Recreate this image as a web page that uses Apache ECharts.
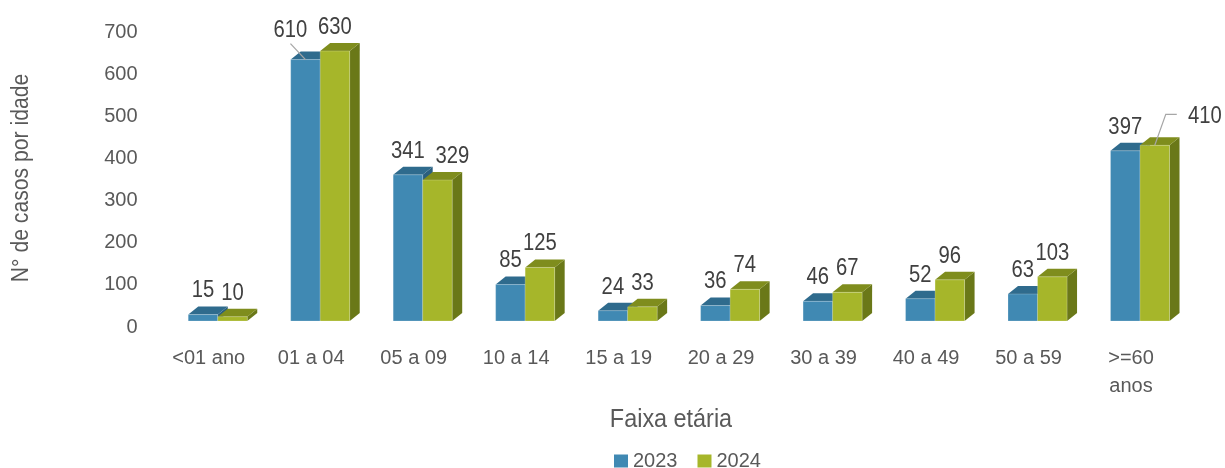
<!DOCTYPE html>
<html>
<head>
<meta charset="utf-8">
<script src="https://cdn.jsdelivr.net/npm/echarts@6/dist/echarts.min.js"></script>
<style>
  html, body { margin: 0; padding: 0; background: #fff; }
  #main { width: 1225px; height: 468px; }
</style>
</head>
<body>
<div id="main"></div>
<script>
// dados
var faixas = ['<01 ano', '01 a 04', '05 a 09', '10 a 14', '15 a 19', '20 a 29', '30 a 39', '40 a 49', '50 a 59', '>=60\nanos'];
var casos2023 = [15, 610, 341, 85, 24, 36, 46, 52, 63, 397];
var casos2024 = [10, 630, 329, 125, 33, 74, 67, 96, 103, 410];
var yTicks = [0, 100, 200, 300, 400, 500, 600, 700];

var FONT = '"Liberation Sans Narrow", "Liberation Sans", Arial, sans-serif';
var DX = 10, DY = 8;          // profundidade do efeito 3D
var BAR_RATIO = 0.288;        // largura de cada barra / largura da categoria

var cores = [
  { front: '#4089B3', top: '#2F6B8D', side: '#2B5F7E' },  // 2023
  { front: '#A6B62A', top: '#7F8D1D', side: '#6A7818' }   // 2024
];

// rótulos deslocados - [serie-categoria]: [dx, dy, linha de chamada]
var labelShift = { '0-1': [-15, -5, 'diag'], '1-2': [15, 0, null], '1-9': [50, -5, 'elbow'] };

function render3D(s) {
  return function (params, api) {
    var cat = api.value(0), val = api.value(1);
    var base = api.coord([cat, 0]);
    var top = api.coord([cat, val]);
    var band = api.size([1, 0])[0];
    var w = band * BAR_RATIO;
    var x0 = base[0] - w + s * w, x1 = x0 + w;
    var y0 = top[1], yb = base[1];
    var c = cores[s];
    var children = [
      { type: 'polygon', shape: { points: [[x1, yb], [x1 + DX, yb - DY], [x1 + DX, y0 - DY], [x1, y0]] },
        style: { fill: c.side } },
      { type: 'polygon', shape: { points: [[x0, y0], [x0 + DX, y0 - DY], [x1 + DX, y0 - DY], [x1, y0]] },
        style: { fill: c.top } },
      { type: 'rect', shape: { x: x0, y: y0, width: w, height: yb - y0 },
        style: { fill: c.front, stroke: 'rgba(255,255,255,0.35)', lineWidth: 0.6 } }
    ];
    var cx = (x0 + x1) / 2, ly = y0 - DY - 4;
    var sh = labelShift[s + '-' + cat];
    if (sh) {
      var tx = cx + sh[0], ty = ly + sh[1];
      if (sh[2] === 'diag') {
        children.push({ type: 'line', shape: { x1: tx, y1: ty + 1, x2: cx, y2: y0 },
          style: { stroke: '#A6A6A6', lineWidth: 1.2 } });
      } else if (sh[2] === 'elbow') {
        children.push({ type: 'polyline', shape: { points: [[tx - 28, ty - 14], [tx - 39, ty - 14], [cx, y0]] },
          style: { stroke: '#A6A6A6', lineWidth: 1.2, fill: null } });
      }
      cx = tx; ly = ty;
    }
    children.push({ type: 'text', x: cx, y: ly, scaleX: 0.88,
      style: { text: String(val), fill: '#404040', font: '23px ' + FONT, align: 'center', verticalAlign: 'bottom' } });
    return { type: 'group', children: children };
  };
}

var chart = echarts.init(document.getElementById('main'));
chart.setOption({
  animation: false,
  textStyle: { fontFamily: FONT },
  grid: [
    { left: 166.5, right: 33.75, top: 21, bottom: 147 },
    { left: 166.5, right: 33.75, top: 32, bottom: 141 }
  ],
  xAxis: [
    { type: 'category', data: faixas, gridIndex: 0,
      axisLine: { show: false }, axisTick: { show: false },
      axisLabel: { color: '#595959', fontSize: 20, margin: 23, lineHeight: 28, padding: [0, 18, 0, 0], interval: 0 } },
    { type: 'category', data: faixas, gridIndex: 1, show: false }
  ],
  yAxis: [
    { type: 'value', gridIndex: 0, min: 0, max: 700, show: false },
    { type: 'value', gridIndex: 1, min: yTicks[0], max: yTicks[yTicks.length - 1], interval: 100,
      axisLine: { show: false }, axisTick: { show: false }, splitLine: { show: false },
      axisLabel: { color: '#595959', fontSize: 20, margin: 29 } }
  ],
  legend: {
    data: ['2023', '2024'], left: 609, top: 446, icon: 'rect', itemWidth: 14, itemHeight: 13, itemGap: 20,
    textStyle: { color: '#595959', fontSize: 20, fontFamily: FONT }
  },
  graphic: [
    { type: 'text', x: 22, y: 178, rotation: Math.PI / 2, scaleX: 0.92,
      style: { text: 'N° de casos por idade', fill: '#595959', font: '23px ' + FONT, align: 'center', verticalAlign: 'middle' } },
    { type: 'text', x: 671, y: 420, scaleX: 0.9,
      style: { text: 'Faixa etária', fill: '#595959', font: '26px ' + FONT, align: 'center', verticalAlign: 'middle' } }
  ],
  series: [
    { name: '2023', type: 'custom', renderItem: render3D(0), itemStyle: { color: cores[0].front },
      data: casos2023.map(function (v, i) { return [i, v]; }), encode: { x: 0, y: 1 }, z: 2 },
    { name: '2024', type: 'custom', renderItem: render3D(1), itemStyle: { color: cores[1].front },
      data: casos2024.map(function (v, i) { return [i, v]; }), encode: { x: 0, y: 1 }, z: 3 }
  ]
});
</script>
</body>
</html>
